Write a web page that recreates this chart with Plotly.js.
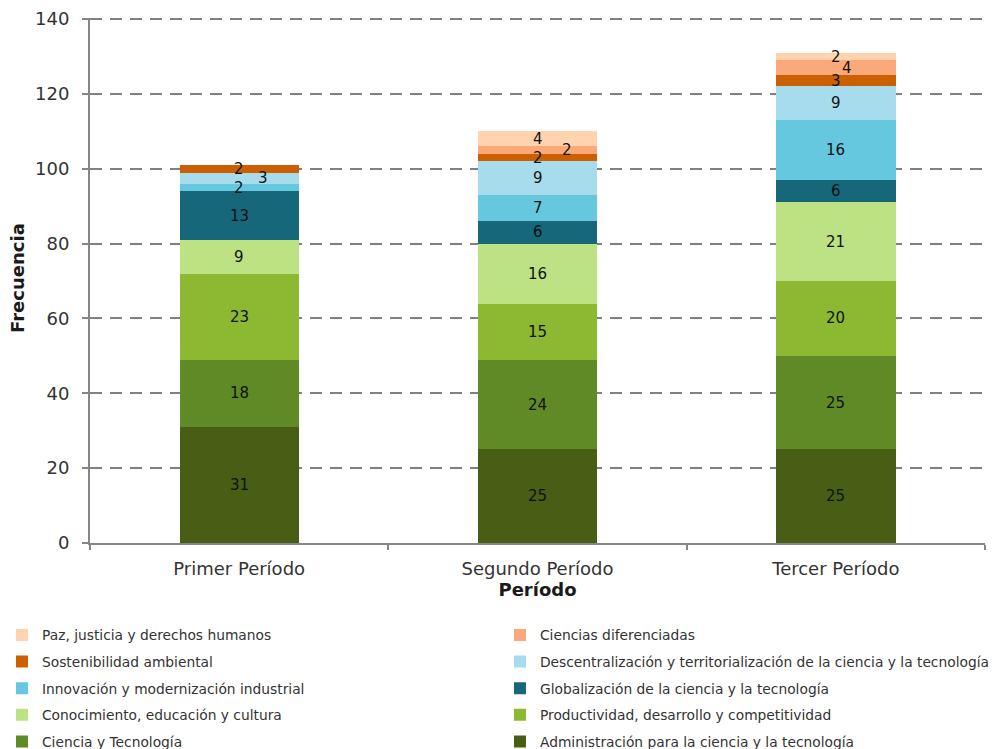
<!DOCTYPE html>
<html>
<head>
<meta charset="utf-8">
<script src="https://cdn.plot.ly/plotly-3.0.1.min.js"></script>
<style>html,body{margin:0;padding:0;background:#fff;}#chart{width:993px;height:749px;}</style>
</head>
<body>
<div id="chart"></div>
<script>
const periods = ["Primer Período", "Segundo Período", "Tercer Período"];
const seriesNames = [
  "Administración para la ciencia y la tecnología",
  "Ciencia y Tecnología",
  "Productividad, desarrollo y competitividad",
  "Conocimiento, educación y cultura",
  "Globalización de la ciencia y la tecnología",
  "Innovación y modernización industrial",
  "Descentralización y territorialización de la ciencia y la tecnología",
  "Sostenibilidad ambiental",
  "Ciencias diferenciadas",
  "Paz, justicia y derechos humanos"
];
const administracion = [31, 25, 25];
const cienciaTecnologia = [18, 24, 25];
const productividad = [23, 15, 20];
const conocimiento = [9, 16, 21];
const globalizacion = [13, 6, 6];
const innovacion = [2, 7, 16];
const descentralizacion = [3, 9, 9];
const sostenibilidad = [2, 2, 3];
const cienciasDiferenciadas = [0, 2, 4];
const paz = [0, 4, 2];
const yTicks = [0, 20, 40, 60, 80, 100, 120, 140];
const yTitle = "Frecuencia";
const xTitle = "Período";

const seriesValues = [administracion, cienciaTecnologia, productividad, conocimiento,
  globalizacion, innovacion, descentralizacion, sostenibilidad, cienciasDiferenciadas, paz];
const colors = ["#485e15", "#5f8a25", "#8cb832", "#bde283", "#16677a",
  "#66c8df", "#a6dcec", "#cc5f00", "#fba97a", "#fdd4ae"];
// which legend column each series goes into
const legendCol = ["legend2", "legend", "legend2", "legend", "legend2",
  "legend", "legend2", "legend", "legend2", "legend"];
// horizontal nudges of small labels, by series,period
const labelShift = {"6,0": 24, "8,1": 29, "8,2": 11};

const traces = seriesNames.map((name, i) => ({
  type: "bar",
  name: name,
  x: periods,
  y: seriesValues[i],
  marker: {color: colors[i], line: {width: 0}},
  legend: legendCol[i],
  legendgroup: "g" + i,
  legendrank: 100 - i,
  hoverinfo: "name+y"
}));

const annotations = [];
periods.forEach((p, j) => {
  let base = 0;
  seriesValues.forEach((vals, i) => {
    const v = vals[j];
    if (v > 0) {
      annotations.push({
        x: p, y: base + v / 2, xref: "x", yref: "y",
        text: String(v), showarrow: false,
        xshift: labelShift[i + "," + j] || 0,
        font: {family: "DejaVu Sans", size: 15, color: "#111111"}
      });
    }
    base += v;
  });
});
// y axis title (drawn as a rotated annotation beside the axis)
annotations.push({
  text: "<b>" + yTitle + "</b>", xref: "paper", yref: "paper",
  x: -0.0804, y: 0.505, xanchor: "center", yanchor: "middle",
  textangle: -90, showarrow: false,
  font: {family: "DejaVu Sans", size: 18, color: "#1a1a1a"}
});

const legendBase = {
  orientation: "v", traceorder: "grouped", tracegroupgap: 5.7,
  font: {family: "DejaVu Sans", size: 13.8, color: "#333333"},
  bgcolor: "rgba(0,0,0,0)", yanchor: "top", xanchor: "left",
  xref: "container", yref: "container",
  itemwidth: 30, itemclick: false, itemdoubleclick: false
};

const layout = {
  width: 993, height: 749,
  margin: {l: 90, r: 8, t: 18, b: 206, autoexpand: false},
  paper_bgcolor: "#ffffff", plot_bgcolor: "#ffffff",
  barmode: "stack", bargap: 0.6,
  font: {family: "DejaVu Sans", color: "#333333"},
  xaxis: {
    type: "category",
    showline: true, linecolor: "#868686", linewidth: 2,
    ticks: "outside", tickson: "boundaries", ticklen: 5, tickwidth: 2, tickcolor: "#868686",
    ticklabelstandoff: 8,
    tickfont: {family: "DejaVu Sans", size: 18, color: "#333333"},
    title: {text: "<b>" + xTitle + "</b>", font: {family: "DejaVu Sans", size: 18, color: "#1a1a1a"}, standoff: 6},
    showgrid: false, zeroline: false
  },
  yaxis: {
    range: [0, 140.3], tickvals: yTicks,
    ticktext: yTicks.map(t => t + "\u2002"),
    showline: true, linecolor: "#868686", linewidth: 2,
    ticks: "outside", ticklen: 6, tickwidth: 2, tickcolor: "#868686",
    tickfont: {family: "DejaVu Sans", size: 18, color: "#333333"},
    showgrid: true, gridcolor: "#808080", gridwidth: 2, griddash: "12px,8px",
    zeroline: false
  },
  legend: Object.assign({}, legendBase, {x: 0.002, y: 0.173}),
  legend2: Object.assign({}, legendBase, {x: 0.5035, y: 0.173}),
  annotations: annotations,
  showlegend: true
};

Plotly.newPlot("chart", traces, layout, {displayModeBar: false, staticPlot: true});
</script>
</body>
</html>
